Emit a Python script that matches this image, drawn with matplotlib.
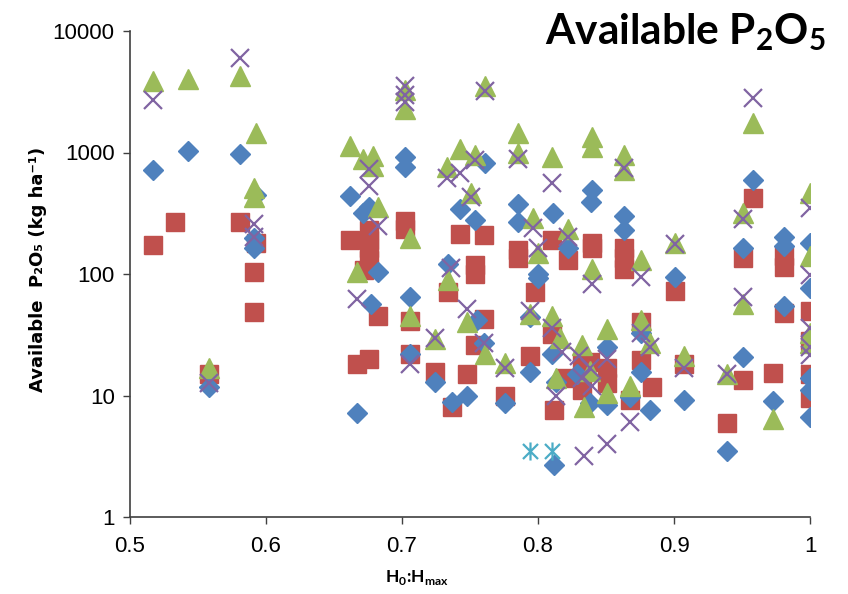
import matplotlib
matplotlib.use("Agg")
import matplotlib.pyplot as plt
from matplotlib.path import Path

plt.rcParams['font.family'] = ['Lato', 'DejaVu Sans']
plt.rcParams['mathtext.fontset'] = 'custom'
plt.rcParams['mathtext.rm'] = 'Lato'
plt.rcParams['mathtext.bf'] = 'Lato:bold'

# H0:Hmax ratio and available P2O5 (kg/ha) for each sample group
blue_x = [0.517, 0.543, 0.581, 0.593, 0.591, 0.591, 0.558, 0.662, 0.671, 0.676,
          0.667, 0.677, 0.682, 0.702, 0.702, 0.706, 0.706, 0.724, 0.734, 0.737,
          0.743, 0.748, 0.754, 0.755, 0.760, 0.761, 0.776, 0.785, 0.785, 0.794,
          0.794, 0.800, 0.800, 0.811, 0.810, 0.812, 0.813, 0.822, 0.829, 0.839,
          0.840, 0.838, 0.851, 0.851, 0.863, 0.863, 0.868, 0.876, 0.876, 0.882,
          0.901, 0.907, 0.939, 0.951, 0.951, 0.958, 0.973, 0.981, 0.981, 0.981,
          1.000, 1.000, 1.000, 1.000, 1.000]
blue_y = [720, 1030, 980, 450, 196, 163, 11.8, 440, 320, 355,
          7.2, 57, 103, 920, 760, 65, 22, 12.8, 120, 8.8,
          340, 10, 280, 42, 27, 820, 8.6, 380, 270, 44,
          15.6, 100, 92, 320, 22, 2.7, 13, 165, 15, 390,
          490, 8.7, 25, 8.3, 300, 230, 9.7, 33, 15.5, 7.6,
          95, 9.2, 3.5, 165, 20.7, 590, 9, 200, 170, 55,
          180, 77, 14, 11, 6.6]

red_x = [0.517, 0.533, 0.581, 0.593, 0.591, 0.591, 0.558, 0.662, 0.676, 0.676,
         0.676, 0.676, 0.672, 0.682, 0.676, 0.667, 0.702, 0.702, 0.706, 0.706,
         0.724, 0.734, 0.737, 0.743, 0.748, 0.754, 0.754, 0.754, 0.760, 0.760,
         0.776, 0.785, 0.785, 0.794, 0.798, 0.810, 0.810, 0.812, 0.820, 0.822,
         0.832, 0.832, 0.840, 0.840, 0.838, 0.851, 0.851, 0.863, 0.863, 0.863,
         0.868, 0.876, 0.876, 0.884, 0.901, 0.907, 0.939, 0.951, 0.951, 0.958,
         0.973, 0.981, 0.981, 0.981, 1.000, 1.000, 1.000, 1.000]
red_y = [172, 270, 270, 180, 104, 49, 15, 190, 230, 190,
         165, 130, 108, 45, 20, 18, 275, 235, 41, 22,
         15.6, 71, 8, 215, 15, 118, 100, 26, 210, 43,
         10, 158, 135, 21, 71, 190, 32, 7.6, 14, 130,
         18.5, 11, 180, 165, 19, 17, 12.6, 165, 135, 110,
         9.2, 40, 19.5, 11.8, 73, 18, 5.9, 135, 13.4, 420,
         15.3, 140, 115, 48, 50, 28, 15, 9.5]

green_x = [0.517, 0.543, 0.581, 0.593, 0.591, 0.591, 0.558, 0.662, 0.671, 0.679,
           0.679, 0.682, 0.667, 0.702, 0.702, 0.706, 0.706, 0.724, 0.733, 0.734,
           0.743, 0.748, 0.751, 0.754, 0.761, 0.761, 0.776, 0.785, 0.785, 0.794,
           0.796, 0.800, 0.810, 0.810, 0.813, 0.816, 0.822, 0.832, 0.834, 0.838,
           0.840, 0.840, 0.840, 0.851, 0.851, 0.863, 0.863, 0.868, 0.876, 0.876,
           0.882, 0.901, 0.907, 0.939, 0.951, 0.951, 0.958, 0.973, 1.000, 1.000,
           1.000, 1.000]
green_y = [3900, 4000, 4300, 1450, 510, 430, 17, 1130, 880, 930,
           770, 355, 103, 3300, 2300, 198, 45, 29, 760, 90,
           1070, 40, 460, 950, 3500, 22, 18.5, 1450, 1000, 47,
           290, 150, 920, 45, 14, 30, 235, 26, 8, 16,
           1330, 1100, 110, 35, 10.5, 950, 720, 12, 130, 42,
           27, 180, 21, 15, 320, 57, 1750, 6.4, 460, 140,
           33, 27]

purple_x = [0.517, 0.581, 0.591, 0.591, 0.558, 0.667, 0.676, 0.676, 0.682, 0.702,
            0.702, 0.702, 0.706, 0.724, 0.733, 0.736, 0.743, 0.748, 0.751, 0.754,
            0.760, 0.761, 0.776, 0.785, 0.794, 0.796, 0.800, 0.810, 0.810, 0.813,
            0.818, 0.822, 0.830, 0.832, 0.834, 0.838, 0.840, 0.840, 0.851, 0.851,
            0.863, 0.868, 0.876, 0.876, 0.882, 0.901, 0.907, 0.939, 0.951, 0.951,
            0.958, 1.000, 1.000, 1.000, 1.000, 1.000]
purple_y = [2700, 6000, 260, 200, 12.7, 62, 730, 530, 250, 3500,
            3000, 2600, 18, 30, 620, 111, 680, 52, 430, 870,
            27, 3200, 17, 890, 50, 240, 165, 560, 36, 10,
            23, 200, 21, 14, 3.2, 17, 82, 12, 20, 4,
            740, 6, 95, 33, 25, 175, 17, 15, 285, 65,
            2800, 350, 98, 36, 25, 21.5]

cyan_x = [0.794, 0.810]
cyan_y = [3.5, 3.5]

x_ticks = [0.5, 0.6, 0.7, 0.8, 0.9, 1.0]
x_tick_labels = ['0.5', '0.6', '0.7', '0.8', '0.9', '1']
y_ticks = [1, 10, 100, 1000, 10000]
y_tick_labels = ['1', '10', '100', '1000', '10000']

# asterisk marker: an X with a vertical stroke through it
star_path = Path([(-1, -1), (1, 1), (-1, 1), (1, -1), (0, -1.2), (0, 1.2)],
                 [Path.MOVETO, Path.LINETO, Path.MOVETO, Path.LINETO,
                  Path.MOVETO, Path.LINETO])

fig = plt.figure(figsize=(8.48, 5.94), dpi=100)
ax = fig.add_axes([130 / 848, 77 / 594, 680 / 848, 486 / 594])

ax.plot(red_x, red_y, linestyle='none', marker='s', ms=13.5,
        color='#C0504D', mec='#C0504D', zorder=3)
ax.plot(blue_x, blue_y, linestyle='none', marker='D', ms=10,
        color='#4F81BD', mec='#4F81BD', zorder=4)
ax.plot(green_x, green_y, linestyle='none', marker='^', ms=14,
        color='#9BBB59', mec='#9BBB59', zorder=5)
ax.plot(purple_x, purple_y, linestyle='none', marker='x', ms=13,
        mew=1.6, color='#8064A2', zorder=6)
ax.plot(cyan_x, cyan_y, linestyle='none', marker=star_path, ms=13,
        mew=1.6, color='#4BACC6', zorder=7, fillstyle='none')

ax.set_yscale('log')
ax.set_xlim(0.5, 1.0)
ax.set_ylim(1, 10000)
ax.set_xticks(x_ticks)
ax.set_xticklabels(x_tick_labels)
ax.set_yticks(y_ticks)
ax.set_yticklabels(y_tick_labels)
ax.minorticks_off()

for side in ('top', 'right'):
    ax.spines[side].set_visible(False)
for side in ('left', 'bottom'):
    ax.spines[side].set_color('#404040')
    ax.spines[side].set_linewidth(1.2)

ax.tick_params(axis='both', direction='out', length=5, width=1.0,
               color='#404040', labelsize=16, labelcolor='#000000')
ax.tick_params(axis='x', pad=9)
ax.tick_params(axis='y', pad=6)
for lbl in ax.get_xticklabels() + ax.get_yticklabels():
    lbl.set_family(['Liberation Sans', 'DejaVu Sans'])

ax.set_ylabel('Available  P\u2082O\u2085 (kg ha\u207b\u00b9)',
              fontsize=13, fontweight='bold', family=['DejaVu Sans'])
ax.yaxis.set_label_coords(-0.122, 0.51)
ax.set_xlabel('H$_\\mathbf{0}$:H$_\\mathbf{max}$', fontsize=12.5, fontweight='bold')
ax.xaxis.set_label_coords(0.422, -0.105)

fig.text(826 / 848, 1 - 11 / 594, 'Available P$_\\mathbf{2}$O$_\\mathbf{5}$',
         ha='right', va='top', fontsize=30.5, fontweight='bold')

fig.savefig('out.png', dpi=100)
